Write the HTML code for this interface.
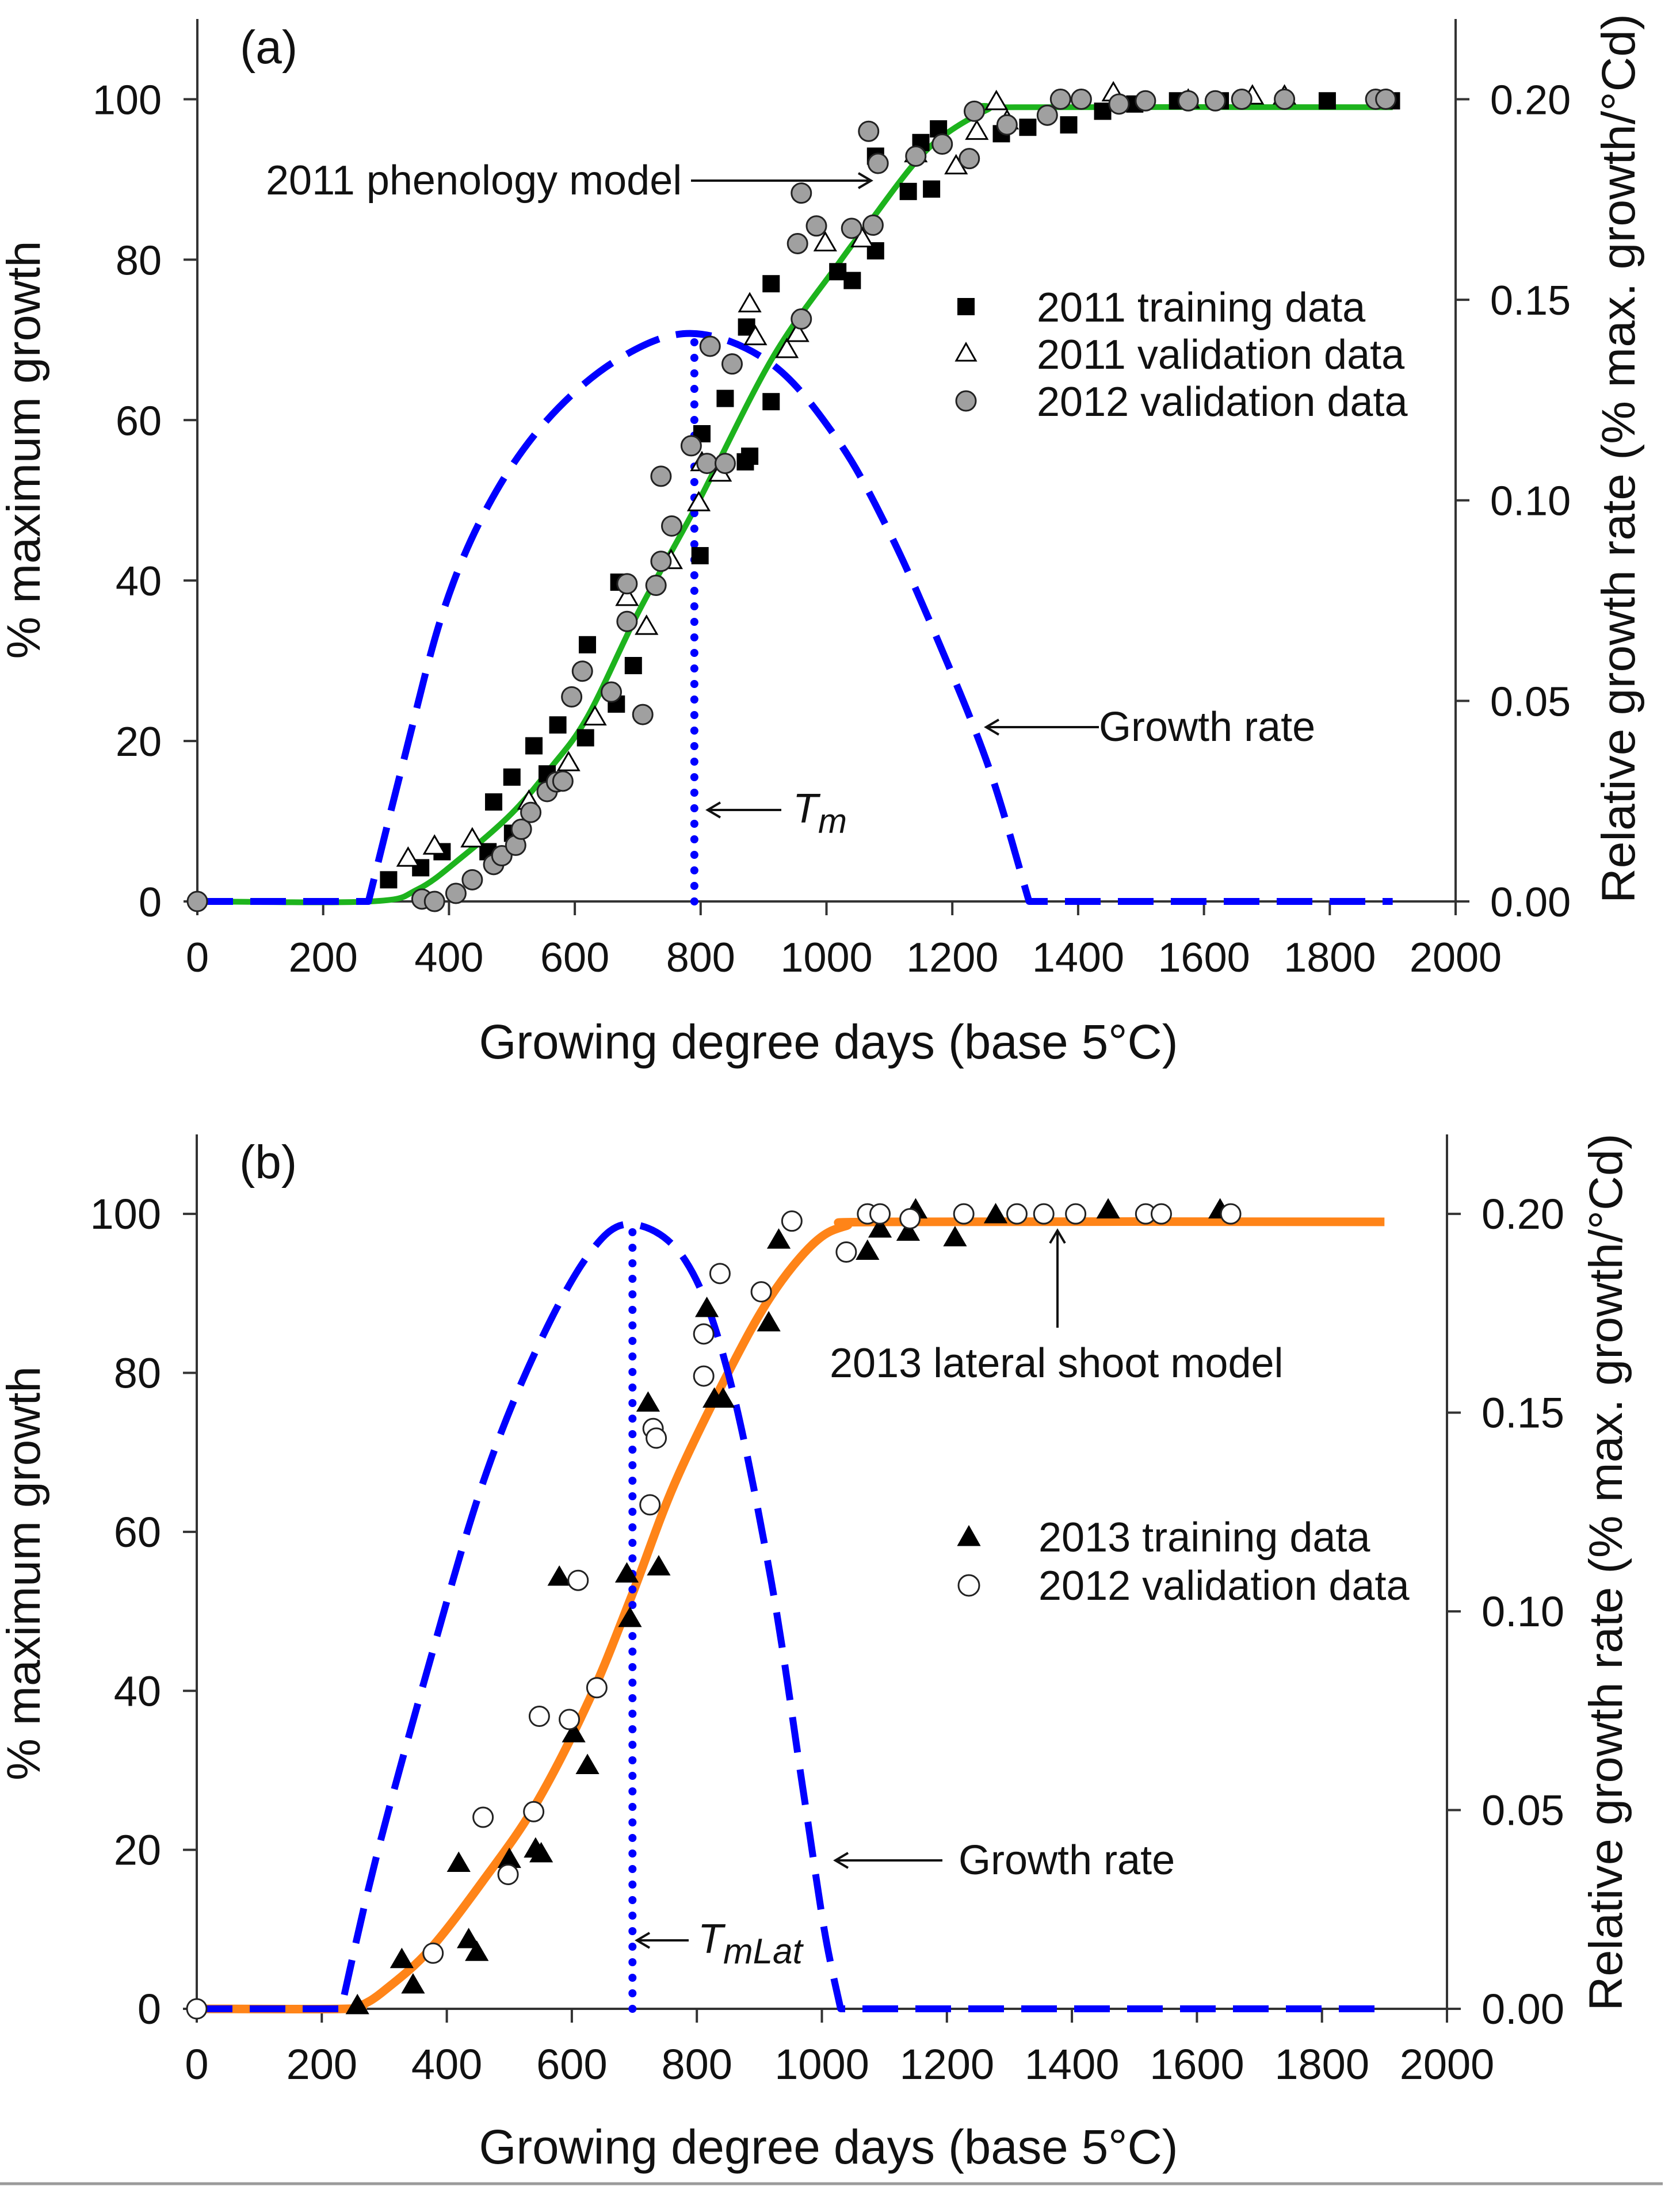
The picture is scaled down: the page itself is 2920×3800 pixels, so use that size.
<!DOCTYPE html>
<html><head><meta charset="utf-8">
<style>
html,body{margin:0;padding:0;background:#fff;}
svg{display:block;font-family:"Liberation Sans",Arial,sans-serif;}
</style></head>
<body>
<svg id="chart" width="2920" height="3800" viewBox="0 0 2920 3800" xmlns="http://www.w3.org/2000/svg">
<rect x="0" y="0" width="2920" height="3800" fill="#fff"/>
<line x1="0" y1="3796" x2="2890" y2="3796" stroke="#9a9a9a" stroke-width="5"/>
</svg>
<script>
// ---------- Panel (a) data ----------
const xTicks = [0,200,400,600,800,1000,1200,1400,1600,1800,2000];
const yTicks = [0,20,40,60,80,100];
const rTicks = [0,0.05,0.10,0.15,0.20];
const rTickLabels = ["0.00","0.05","0.10","0.15","0.20"];

const aRateGdd = [272,329,391,462,553,667,786,913,1018,1100,1180,1259,1322];
const aRateVal = [0,0.0358,0.0724,0.0986,0.1195,0.135,0.1416,0.134,0.115,0.092,0.064,0.033,0];
const aModelGdd = [0,275,350,420,500,561,620,702,793,913,1018,1065,1161,1256,1300,1900];
const aModelPct = [0,0,1.5,5.5,11,16.6,23,36.2,49.3,67.6,79.4,84.3,93.8,98.7,99,99];
const aTm = 790;
const aTmPeak = 0.1414;

const aTrainX = [304,355,389,462,471,501,500,535,556,573,620,617,666,693,670,873,799,802,839,878,871,912,912,1018,1041,1078,1078,1130,1167,1150,1178,1278,1320,1385,1439,1490,1558,1626,1796,1898];
const aTrainY = [2.7,4.2,6.2,6.2,12.4,8.5,15.5,19.4,15.9,22,32,20.4,24.6,29.4,39.8,71.6,43.1,58.3,62.7,55.5,54.8,62.3,77,78.5,77.4,81.1,92.9,88.5,88.8,94.6,96.3,95.7,96.5,96.8,98.5,99.4,99.8,99.8,99.8,99.8];
const aValX = [335,377,437,527,590,632,683,714,753,797,802,831,878,887,937,954,998,1057,1142,1206,1239,1270,1287,1456,1575,1677,1728];
const aValY = [5.3,6.8,7.7,12.4,17.2,22.9,37.8,34.2,42.4,49.6,54.6,53.3,74.4,70.3,68.7,70.7,82,82.5,93.1,91.6,95.9,99.6,97.2,100.7,99.8,100.3,100.3];
const aVal12X = [0,357,377,411,437,471,484,506,515,530,556,571,581,595,612,658,683,683,708,729,737,754,737,785,810,839,815,850,960,954,984,960,1040,1074,1082,1067,1142,1184,1227,1235,1287,1351,1372,1405,1465,1507,1575,1618,1660,1728,1873,1889];
const aVal12Y = [0,0.3,0,1,2.7,4.6,5.7,7,9,11.1,13.7,14.9,15,25.5,28.7,26.1,34.9,39.6,23.3,39.4,42.4,46.8,53,56.8,54.6,54.6,69.2,67,72.6,82,84.2,88.3,83.9,84.3,92,96,92.9,94.4,92.6,98.5,96.8,98,100,100,99.4,99.8,99.8,99.8,100,100,100,100];

// ---------- Panel (b) data ----------
const bRateGdd = [231,286,371,457,542,628,696,782,850,919,970,1004,1030];
const bRateVal = [0,0.0374,0.0864,0.132,0.1654,0.19,0.1974,0.1882,0.16,0.1076,0.055,0.0198,0];
const bModelGdd = [0,240,265,300,371,457,542,628,696,764,850,919,987,1039,1107,1900];
const bModelPct = [0,0,0.5,2.3,7.3,16,25.7,38.9,52,66,80,89.7,96.3,98.5,99,99];
const bTm = 697;
const bTmPeak = 0.1974;

const bTrainX = [257,328,346,419,435,448,500,542,551,603,625,580,688,693,739,722,816,828,842,915,931,1073,1093,1138,1150,1213,1278,1458,1637];
const bTrainY = [0.3,6.1,2.9,18.2,8.6,7,18.7,20,19.4,34.5,30.5,54.2,54.6,49,55.5,76.1,88,76.6,76.6,86.2,96.6,95.2,98,97.6,100.4,96.9,99.8,100.4,100.4];
const bValX = [0,378,458,498,539,548,596,610,640,725,730,735,811,811,837,903,952,1039,1073,1093,1141,1227,1312,1355,1406,1518,1543,1654];
const bValY = [0,7,24.1,16.9,24.8,36.8,36.4,53.9,40.4,63.4,73,71.8,79.6,84.9,92.5,90.2,99.1,95.2,100,100,99.4,100,100,100,100,100,100,100];

// ---------- helpers ----------
const NS = "http://www.w3.org/2000/svg";
const svg = document.getElementById("chart");
function mk(tag, attrs, parent){
  const e = document.createElementNS(NS, tag);
  for (const k in attrs) e.setAttribute(k, attrs[k]);
  (parent||svg).appendChild(e);
  return e;
}
function smoothPath(pts){
  let d = "";
  for (let i=0;i<pts.length-1;i++){
    const p0 = pts[Math.max(0,i-1)], p1 = pts[i], p2 = pts[i+1], p3 = pts[Math.min(pts.length-1,i+2)];
    const c1x = p1[0]+(p2[0]-p0[0])/6, c1y = p1[1]+(p2[1]-p0[1])/6;
    const c2x = p2[0]-(p3[0]-p1[0])/6, c2y = p2[1]-(p3[1]-p1[1])/6;
    d += " C"+c1x.toFixed(1)+","+c1y.toFixed(1)+" "+c2x.toFixed(1)+","+c2y.toFixed(1)+" "+p2[0].toFixed(1)+","+p2[1].toFixed(1);
  }
  return d;
}

function panel(cfg){
  const g = mk("g", {});
  
  
  const X = v => cfg.x0 + (v/2000)*(cfg.x1-cfg.x0);
  const Y = v => cfg.y0 - (v/110)*(cfg.y0-cfg.yTop);
  const R = v => Y(v*500);
  const ink = "#333";

  const la = mk("line",{x1:cfg.x0,y1:cfg.yTop,x2:cfg.x0,y2:cfg.y0,stroke:ink,"stroke-width":4},g);
   
  const ra = mk("line",{x1:cfg.x1,y1:cfg.yTop,x2:cfg.x1,y2:cfg.y0,stroke:ink,"stroke-width":4},g);
   
  const ba = mk("line",{x1:cfg.x0,y1:cfg.y0,x2:cfg.x1,y2:cfg.y0,stroke:ink,"stroke-width":4},g);
   

  xTicks.forEach(t=>{
    const tk = mk("line",{x1:X(t),y1:cfg.y0,x2:X(t),y2:cfg.y0+24,stroke:ink,"stroke-width":4},g);
     
    const tl = mk("text",{x:X(t),y:cfg.y0+122,"text-anchor":"middle","font-size":cfg.tickFs,fill:"#111"},g);
    tl.textContent = t;
     
  });
  yTicks.forEach(t=>{
    const tk = mk("line",{x1:cfg.x0-24,y1:Y(t),x2:cfg.x0,y2:Y(t),stroke:ink,"stroke-width":4},g);
     
    const tl = mk("text",{x:cfg.x0-62,y:Y(t)+26,"text-anchor":"end","font-size":cfg.tickFs,fill:"#111"},g);
    tl.textContent = t;
     
  });
  rTicks.forEach((t,i)=>{
    const tk = mk("line",{x1:cfg.x1,y1:R(t),x2:cfg.x1+24,y2:R(t),stroke:ink,"stroke-width":4},g);
     
    const tl = mk("text",{x:cfg.x1+60,y:R(t)+26,"text-anchor":"start","font-size":cfg.tickFs,fill:"#111"},g);
    tl.textContent = rTickLabels[i];
     
  });

  const xt = mk("text",{x:1440,y:cfg.xTitleY,"text-anchor":"middle","font-size":84,fill:"#111",textLength:1215,lengthAdjust:"spacingAndGlyphs"},g);
  xt.textContent = "Growing degree days (base 5°C)";
   
  const ly = mk("text",{x:0,y:0,"text-anchor":"middle","font-size":82,fill:"#111",textLength:cfg.lTitleLen,lengthAdjust:"spacingAndGlyphs",transform:"translate("+(cfg.lTitleX+29)+","+cfg.lTitleY+") rotate(-90)"},g);
  ly.textContent = "% maximum growth";
   
  const ry = mk("text",{x:0,y:0,"text-anchor":"middle","font-size":82,fill:"#111",textLength:cfg.rTitleLen,lengthAdjust:"spacingAndGlyphs",transform:"translate("+(cfg.rTitleX+29)+","+cfg.rTitleY+") rotate(-90)"},g);
  ry.textContent = "Relative growth rate (% max. growth/°Cd)";
   
  const pl = mk("text",{x:cfg.x0+74,y:cfg.labelY,"font-size":82,fill:"#111"},g);
  pl.textContent = cfg.label;
   

  const mp = cfg.modelGdd.map((v,i)=>[X(v),Y(cfg.modelPct[i])]);
  const model = mk("path",{d:"M"+mp[0][0]+","+mp[0][1]+smoothPath(mp),fill:"none",stroke:cfg.modelColor,"stroke-width":cfg.modelW,"stroke-linejoin":"round"},g);
   

  const rp = cfg.rateGdd.map((v,i)=>[X(v),R(cfg.rateVal[i])]);
  let d = "M"+X(0)+","+R(0)+" L"+rp[0][0]+","+rp[0][1]+smoothPath(rp)+" L"+X(1900)+","+R(0);
  const rate = mk("path",{d:d,fill:"none",stroke:"#0000ff","stroke-width":12,"stroke-dasharray":"62 30","stroke-linejoin":"round"},g);
   

  const tm = mk("line",{x1:X(cfg.tm),y1:cfg.y0,x2:X(cfg.tm),y2:R(cfg.tmPeak),stroke:"#0000ff","stroke-width":14,"stroke-dasharray":"0 27","stroke-linecap":"round"},g);
   

  cfg.series.forEach(s=>{
    s.xs.forEach((xv,i)=>{
      const cx = X(xv), cy = Y(s.ys[i]);
      let m;
      if (s.type==="square") m = mk("rect",{x:cx-15,y:cy-15,width:30,height:30,fill:"#000"},g);
      else if (s.type==="tri") m = mk("polygon",{points:(cx)+","+(cy-19)+" "+(cx-18)+","+(cy+12)+" "+(cx+18)+","+(cy+12),fill:s.fill,stroke:"#000","stroke-width":3},g);
      else m = mk("circle",{cx:cx,cy:cy,r:17,fill:s.fill,stroke:"#222","stroke-width":3},g);
      
      
    });
  });
}

function arrowH(x1,x2,y,name){
  const a = mk("path",{d:"M"+x1+","+y+" L"+x2+","+y+" M"+(x2+(x1<x2?-22:22))+","+(y-13)+" L"+x2+","+y+" L"+(x2+(x1<x2?-22:22))+","+(y+13),fill:"none",stroke:"#111","stroke-width":4});
  
  
}
function label(txt,x,y,fs,name){
  const t = mk("text",{x:x,y:y,"font-size":fs,fill:"#111"});
  t.textContent = txt;
  
  
  return t;
}

panel({name:"panel-a",label:"(a)",x0:343,x1:2530,y0:1567,yTop:33,tickFs:72,labelY:110,xTitleY:1840,
  lTitleX:40,lTitleY:782,lTitleLen:727,rTitleX:2812,rTitleY:797,rTitleLen:1546,
  modelGdd:aModelGdd,modelPct:aModelPct,modelColor:"#1db31d",modelW:10,
  rateGdd:aRateGdd,rateVal:aRateVal,tm:aTm,tmPeak:aTmPeak,
  series:[{name:"training-2011",type:"square",xs:aTrainX,ys:aTrainY},
          {name:"validation-2011",type:"tri",fill:"#fff",xs:aValX,ys:aValY},
          {name:"validation-2012",type:"circ",fill:"#a0a0a0",xs:aVal12X,ys:aVal12Y}]});

panel({name:"panel-b",label:"(b)",x0:342,x1:2515,y0:3492,yTop:1972,tickFs:74,labelY:2048,xTitleY:3761,
  lTitleX:40,lTitleY:2735,lTitleLen:720,rTitleX:2790,rTitleY:2733,rTitleLen:1525,
  modelGdd:bModelGdd,modelPct:bModelPct,modelColor:"#ff8418",modelW:15,
  rateGdd:bRateGdd,rateVal:bRateVal,tm:bTm,tmPeak:bTmPeak,
  series:[{name:"training-2013",type:"tri",fill:"#000",xs:bTrainX,ys:bTrainY},
          {name:"validation-2012-b",type:"circ",fill:"#fff",xs:bValX,ys:bValY}]});

label("2011 phenology model",462,338,72,"phenology-model-label");
arrowH(1201,1514,314,"phenology-model-arrow");
arrowH(1910,1714,1264,"growth-rate-arrow-a");
label("Growth rate",1910,1288,72,"growth-rate-label-a");
arrowH(1358,1230,1408,"tm-arrow");
const tmT = label("T",1378,1430,72,"tm-label"); tmT.setAttribute("font-style","italic");
const tmS = mk("tspan",{dy:18,"font-size":60}); tmS.textContent="m"; tmT.appendChild(tmS);
let lg = mk("rect",{x:1664,y:518,width:30,height:30,fill:"#000"});
 
lg = mk("polygon",{points:"1679,597 1662,627 1696,627",fill:"#fff",stroke:"#000","stroke-width":3});
 
lg = mk("circle",{cx:1679,cy:697,r:17,fill:"#a0a0a0",stroke:"#222","stroke-width":3});
 
label("2011 training data",1802,559,72,"legend-entry-training-2011");
label("2011 validation data",1802,641,72,"legend-entry-validation-2011");
label("2012 validation data",1802,723,72,"legend-entry-validation-2012");

label("2013 lateral shoot model",1442,2394,72,"lateral-shoot-model-label");
const va = mk("path",{d:"M1838,2308 L1838,2139 M1825,2161 L1838,2139 L1851,2161",fill:"none",stroke:"#111","stroke-width":4});
 
arrowH(1638,1452,3234,"growth-rate-arrow-b");
label("Growth rate",1666,3258,72,"growth-rate-label-b");
arrowH(1197,1107,3373,"tmlat-arrow");
const tl2 = label("T",1213,3395,72,"tmlat-label"); tl2.setAttribute("font-style","italic");
const tl2s = mk("tspan",{dy:18,"font-size":62}); tl2s.textContent="mLat"; tl2.appendChild(tl2s);
lg = mk("polygon",{points:"1684,2654 1666,2686 1702,2686",fill:"#000",stroke:"#000","stroke-width":3});
 
lg = mk("circle",{cx:1684,cy:2756,r:18,fill:"#fff",stroke:"#222","stroke-width":3});
 
label("2013 training data",1805,2697,72,"legend-entry-training-2013");
label("2012 validation data",1805,2781,72,"legend-entry-validation-2012-b");
</script>
</body></html>
